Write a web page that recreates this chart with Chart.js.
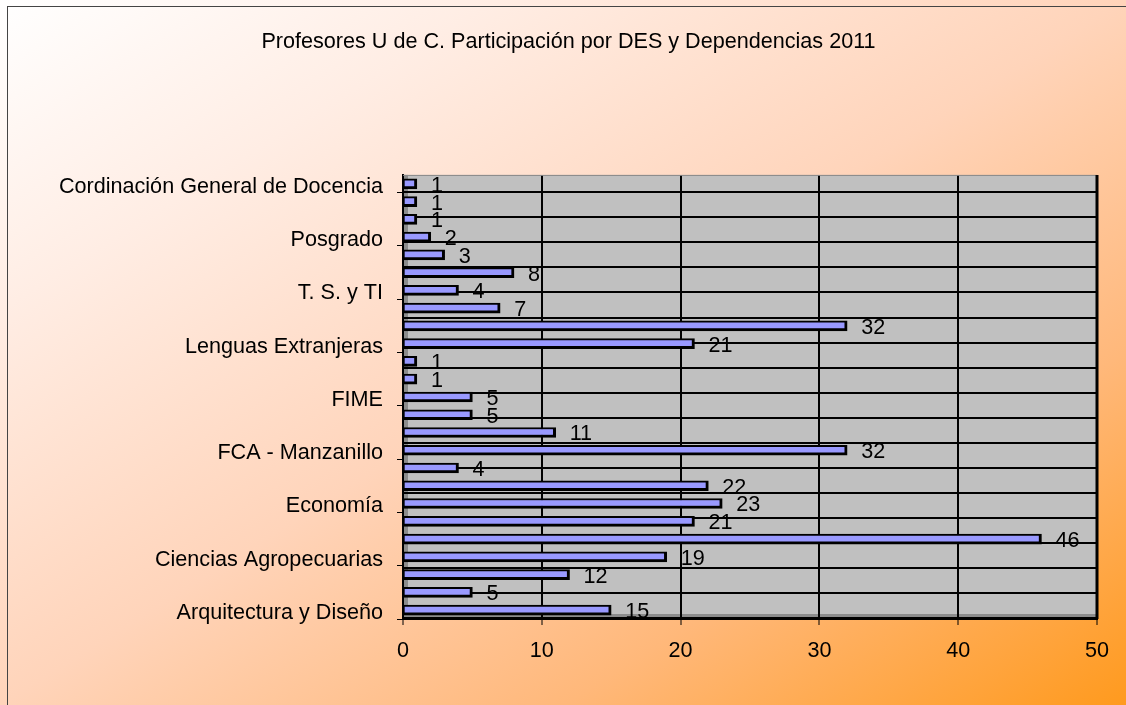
<!DOCTYPE html>
<html lang="es">
<head>
<meta charset="utf-8">
<title>Profesores U de C</title>
<script src="https://cdn.jsdelivr.net/npm/chart.js@4"></script>
<style>
  html, body { margin: 0; padding: 0; }
  body {
    width: 1126px;
    height: 705px;
    overflow: hidden;
    position: relative;
    background: linear-gradient(to bottom right, #ffffff 0%, #ffede4 22%, #ffd4ba 50%, #ffb87a 75%, #ff9a1e 100%);
  }
  #marco {
    position: absolute; left: 7px; top: 6px; right: -2px; bottom: -2px;
    border-left: 1px solid #444; border-top: 1px solid #444;
  }
  #caja { position: absolute; left: 0; top: 0; width: 1126px; height: 705px; }
</style>
</head>
<body>
<div id="marco"></div>
<div id="caja"><canvas id="grafica"></canvas></div>
<script>
// categorías de abajo hacia arriba, solo cada tercera lleva nombre en el eje
const categorias = [
  'Arquitectura y Diseño', '', '',
  'Ciencias Agropecuarias', '', '',
  'Economía', '', '',
  'FCA - Manzanillo', '', '',
  'FIME', '', '',
  'Lenguas Extranjeras', '', '',
  'T. S. y TI', '', '',
  'Posgrado', '', '',
  'Cordinación General de Docencia',
];
const profesores = [15, 5, 12, 19, 46, 21, 23, 22, 4, 32, 11, 5, 5, 1, 1, 21, 32, 7, 4, 8, 3, 2, 1, 1, 1];
const ticksX = [0, 10, 20, 30, 40, 50];
const titulo = 'Profesores U de C. Participación por DES y Dependencias 2011';

const fuente = '"Liberation Sans", Arial, sans-serif';
const tam = 21.6;
Chart.defaults.font.family = fuente;
Chart.defaults.font.size = tam;
Chart.defaults.color = '#000';

// fondo gris del área y paredes
const fondo = {
  id: 'fondo',
  beforeDraw(chart) {
    const { ctx, chartArea: a } = chart;
    ctx.save();
    ctx.fillStyle = '#c0c0c0';
    ctx.fillRect(a.left, a.top, a.right - a.left, a.bottom - a.top);
    ctx.fillStyle = '#8c8c8c';
    ctx.fillRect(a.left, a.top, 5, a.bottom - a.top);
    ctx.fillRect(a.left, a.bottom - 5, a.right - a.left, 5);
    ctx.restore();
  },
  beforeDatasetsDraw(chart) {
    const { ctx, chartArea: a } = chart;
    ctx.save();
    ctx.strokeStyle = '#888';
    ctx.lineWidth = 1;
    ctx.beginPath();
    ctx.moveTo(a.left, a.top + 0.5);
    ctx.lineTo(a.right, a.top + 0.5);
    ctx.stroke();
    ctx.strokeStyle = '#000';
    ctx.lineWidth = 3;
    ctx.beginPath();
    ctx.moveTo(a.right, a.top);
    ctx.lineTo(a.right, a.bottom);
    ctx.stroke();
    ctx.restore();
  },
};

// valores al final de cada barra
const etiquetas = {
  id: 'etiquetas',
  afterDatasetsDraw(chart) {
    const { ctx } = chart;
    const meta = chart.getDatasetMeta(0);
    ctx.save();
    ctx.font = tam + 'px ' + fuente;
    ctx.fillStyle = '#000';
    ctx.textAlign = 'left';
    ctx.textBaseline = 'middle';
    meta.data.forEach((bar, i) => {
      ctx.fillText(String(profesores[i]), bar.x + 14, bar.y + 2);
    });
    ctx.restore();
  },
};

new Chart(document.getElementById('grafica'), {
  type: 'bar',
  data: {
    labels: categorias,
    datasets: [
      {
        label: 'Profesores',
        data: profesores,
        yAxisID: 'y',
        backgroundColor: '#9999ff',
        borderColor: '#000',
        borderWidth: { top: 2, right: 3, bottom: 3, left: 1 },
        borderSkipped: false,
        barThickness: 10,
      },
    ],
  },
  options: {
    indexAxis: 'y',
    responsive: true,
    maintainAspectRatio: false,
    animation: false,
    layout: { padding: { left: 40, right: 29, top: 0, bottom: 0 } },
    plugins: {
      legend: { display: false },
      tooltip: { enabled: false },
      title: {
        display: true,
        text: titulo,
        font: { size: tam, weight: 'normal' },
        color: '#000',
        padding: { top: 29, bottom: 120 },
      },
    },
    scales: {
      x: {
        min: ticksX[0],
        max: ticksX[ticksX.length - 1],
        ticks: { stepSize: ticksX[1] - ticksX[0], padding: 13 },
        grid: { color: '#000', lineWidth: 2, tickLength: 6, tickWidth: 1, tickColor: '#000' },
        border: { color: '#000', width: 2 },
        afterFit: (s) => { s.height = 86; },
      },
      y: {
        reverse: true,
        ticks: { autoSkip: false, padding: 14, labelOffset: 3 },
        grid: {
          offset: true,
          drawOnChartArea: false,
          tickLength: 6,
          tickWidth: 1,
          color: (c) => (c.index % 3 === 0 ? '#000' : 'rgba(0,0,0,0)'),
        },
        border: { color: '#000', width: 2 },
        afterFit: (s) => { s.width = 363; },
      },
      y2: {
        type: 'linear',
        position: 'right',
        min: -0.5,
        max: categorias.length - 0.5,
        ticks: { display: false },
        grid: { color: '#000', lineWidth: 2, drawTicks: false },
        border: { display: false },
        afterBuildTicks: (s) => {
          const t = [];
          for (let v = -0.5; v < categorias.length - 1; v += 1.5) t.push({ value: v });
          s.ticks = t;
        },
        afterFit: (s) => { s.width = 0; },
      },
    },
  },
  plugins: [fondo, etiquetas],
});
</script>
</body>
</html>
